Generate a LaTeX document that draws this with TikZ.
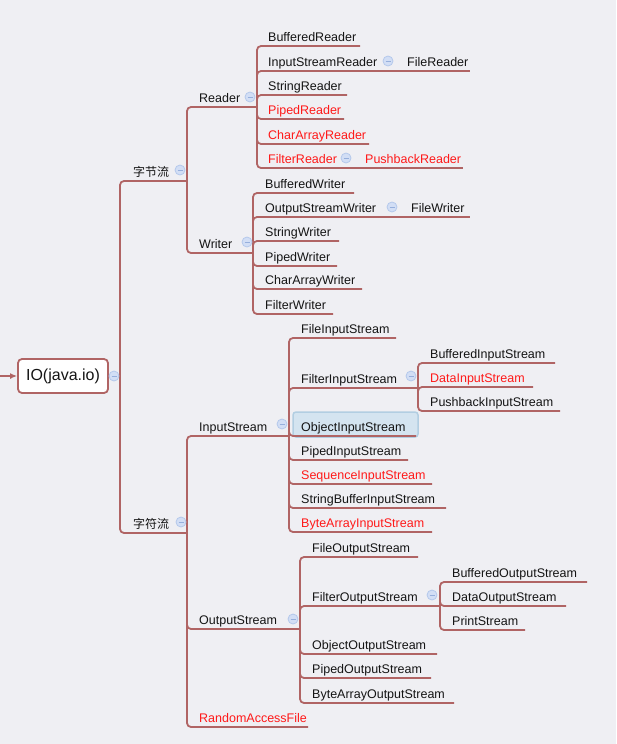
\documentclass[tikz,border=0pt]{standalone}
\usepackage{fontspec}
\setmainfont{Liberation Sans}
\newfontfamily\cjk{Noto Sans CJK SC}
\usetikzlibrary{arrows.meta}

\definecolor{bgcol}{RGB}{239,239,243}
\definecolor{branchcol}{RGB}{176,100,100}
\definecolor{hotred}{RGB}{255,25,25}
\definecolor{inkcol}{RGB}{20,20,20}
\definecolor{foldfill}{RGB}{210,222,245}
\definecolor{folddraw}{RGB}{180,200,235}
\definecolor{foldbar}{RGB}{150,175,220}
\definecolor{selfill}{RGB}{212,228,240}
\definecolor{seldraw}{RGB}{178,206,226}

\tikzset{
  branch/.style={draw=branchcol, line width=1.8pt, rounded corners=4pt},
  itemtext/.style={anchor=base west, inner sep=0pt, text=inkcol, font=\fontsize{12.5}{15}\selectfont},
  fold/.style={circle, draw=folddraw, fill=foldfill, line width=0.8pt, minimum size=10pt, inner sep=0pt,
    path picture={\draw[foldbar, line width=1pt] ([xshift=-2.5pt]path picture bounding box.center) -- ([xshift=2.5pt]path picture bounding box.center);}},
}

\begin{document}
\begin{tikzpicture}[x=1pt, y=-1pt]

    % 背景
    \useasboundingbox (0,0) rectangle (616,744);
    \fill[bgcol] (0,0) rectangle (616,744);

    % 選択中のノード
    \draw[seldraw, fill=selfill, line width=1.5pt, rounded corners=3pt] (293,412) rectangle (418,437);

    % ルート
    \node[draw=branchcol, line width=1.8pt, fill=white, rounded corners=4pt, minimum width=90pt, minimum height=34pt,
          text=inkcol, font=\fontsize{16}{19}\selectfont] (root) at (63,376) {IO(java.io)};
    \coordinate (in) at (0,376);
    \draw[branchcol, line width=1.5pt, -{Latex[length=7pt,width=6pt]}] (in) -- (root);
    \coordinate (root-e) at (120,376);
    \draw[branch] (root) -- (root-e);

    % 字节流 / 字符流
    \foreach \n/\y/\t in {zijie/181/字节流, zifu/533/字符流} {
        \coordinate (\n-e) at (187,\y);
        \draw[branch] (root-e) |- (\n-e);
        \node[itemtext, font=\cjk\fontsize{12}{14}\selectfont] (\n) at (133,\y-5) {\t};
    }

    % 第二階層
    \foreach \p/\n/\y/\e/\t/\c in {zijie/reader/107/257/Reader/inkcol, zijie/writer/253/253/Writer/inkcol,
                                  zifu/instream/436/289/InputStream/inkcol, zifu/outstream/629/300/OutputStream/inkcol,
                                  zifu/raf/727/308/RandomAccessFile/hotred} {
        \coordinate (\n-e) at (\e,\y);
        \draw[branch] (\p-e) |- (\n-e);
        \node[itemtext, text=\c] (\n) at (199,\y-5) {\t};
    }

    % Reader
    \foreach \y/\e/\t/\c in {46/360/BufferedReader/inkcol, 71/398/InputStreamReader/inkcol, 95/347/StringReader/inkcol,
                             119/344/PipedReader/hotred, 144/369/CharArrayReader/hotred, 168/356/FilterReader/hotred} {
        \coordinate (\t-e) at (\e,\y);
        \draw[branch] (reader-e) |- (\t-e);
        \node[itemtext, text=\c] (\t) at (268,\y-5) {\t};
    }
    \coordinate (FileReader-e) at (470,71);
    \draw[branch] (InputStreamReader-e) -- (FileReader-e);
    \node[itemtext] (FileReader) at (407,66) {FileReader};
    \coordinate (PushbackReader-e) at (463,168);
    \draw[branch] (FilterReader-e) -- (PushbackReader-e);
    \node[itemtext, text=hotred] (PushbackReader) at (365,163) {PushbackReader};

    % Writer
    \foreach \y/\e/\t in {193/354/BufferedWriter, 217/402/OutputStreamWriter, 241/339/StringWriter,
                          266/337/PipedWriter, 289/362/CharArrayWriter, 314/333/FilterWriter} {
        \coordinate (\t-e) at (\e,\y);
        \draw[branch] (writer-e) |- (\t-e);
        \node[itemtext] (\t) at (265,\y-5) {\t};
    }
    \coordinate (FileWriter-e) at (470,217);
    \draw[branch] (OutputStreamWriter-e) -- (FileWriter-e);
    \node[itemtext] (FileWriter) at (411,212) {FileWriter};

    % InputStream
    \foreach \y/\e/\t/\c in {338/396/FileInputStream/inkcol, 388/418/FilterInputStream/inkcol,
                             436/416/ObjectInputStream/inkcol, 460/408/PipedInputStream/inkcol,
                             484/432/SequenceInputStream/hotred, 508/446/StringBufferInputStream/inkcol,
                             532/432/ByteArrayInputStream/hotred} {
        \coordinate (\t-e) at (\e,\y);
        \draw[branch] (instream-e) |- (\t-e);
        \node[itemtext, text=\c] (\t) at (301,\y-5) {\t};
    }
    \foreach \y/\e/\t/\c in {363/555/BufferedInputStream/inkcol, 387/533/DataInputStream/hotred,
                             411/560/PushbackInputStream/inkcol} {
        \coordinate (\t-e) at (\e,\y);
        \draw[branch] (FilterInputStream-e) |- (\t-e);
        \node[itemtext, text=\c] (\t) at (430,\y-5) {\t};
    }

    % OutputStream
    \foreach \y/\e/\t in {557/418/FileOutputStream, 606/440/FilterOutputStream, 654/437/ObjectOutputStream,
                          678/431/PipedOutputStream, 703/454/ByteArrayOutputStream} {
        \coordinate (\t-e) at (\e,\y);
        \draw[branch] (outstream-e) |- (\t-e);
        \node[itemtext] (\t) at (312,\y-5) {\t};
    }
    \foreach \y/\e/\t in {582/587/BufferedOutputStream, 606/566/DataOutputStream, 630/525/PrintStream} {
        \coordinate (\t-e) at (\e,\y);
        \draw[branch] (FilterOutputStream-e) |- (\t-e);
        \node[itemtext] (\t) at (452,\y-5) {\t};
    }

    % 折りたたみボタン
    \foreach \n/\x/\y in {root/114/376, zijie/180/170, zifu/181/522, reader/250/97, writer/247/242,
                          instream/282/424, outstream/293/619, isr/388/61, frd/346/158, osw/392/207,
                          fis/411/376, fos/432/595} {
        \node[fold] (\n-f) at (\x,\y) {};
    }
    %
\end{tikzpicture}
\end{document}
